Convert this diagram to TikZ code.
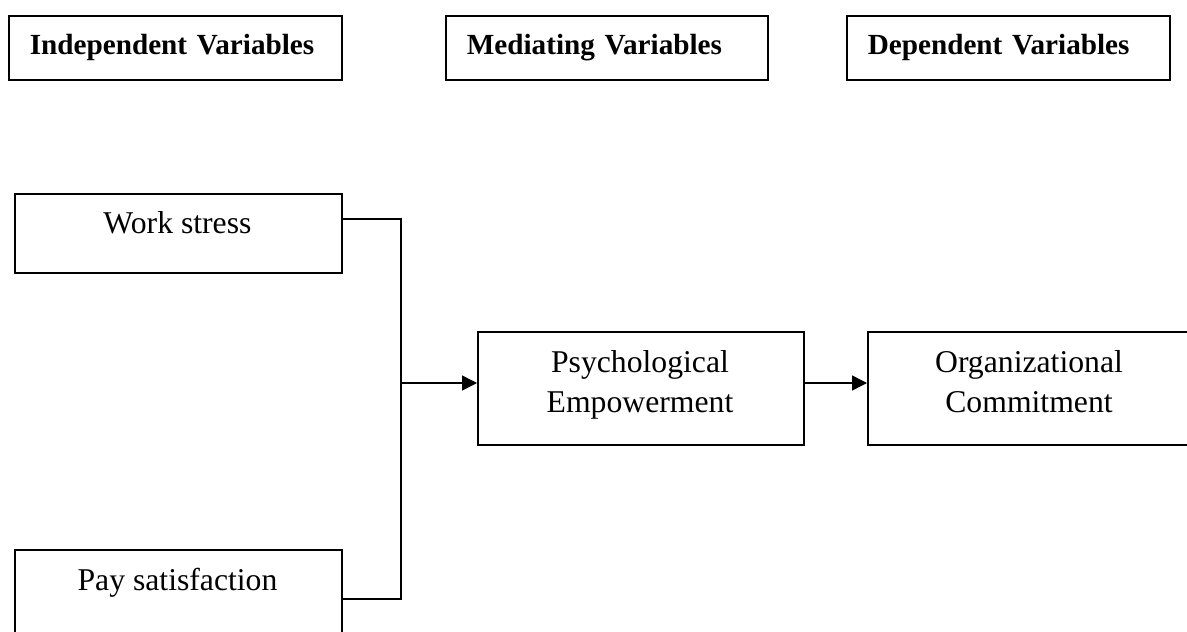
\documentclass[tikz,border=0pt]{standalone}
\usepackage{fontspec}
\setmainfont{Liberation Serif}
\usetikzlibrary{arrows.meta}
\tikzset{
  hdr/.style={draw, line width=1.6pt, anchor=north west, inner xsep=21pt, inner ysep=0pt,
    minimum height=64pt, align=left, font=\fontsize{29.2pt}{35pt}\selectfont\bfseries},
  varbox/.style={draw, line width=1.5pt, anchor=north west, inner sep=0pt},
  lbl/.style={anchor=base, inner sep=0pt, align=center, font=\fontsize{31.7pt}{40pt}\selectfont},
  conn/.style={line width=1.5pt},
  arr/.style={line width=1.5pt, -{Triangle[length=15pt,width=15pt]}}
}
\begin{document}
\begin{tikzpicture}[x=1pt,y=-1pt]
\useasboundingbox (0,0) rectangle (1187,632);
\clip (0,0) rectangle (1187,632);
% headers
\node[hdr, text width=291pt] (h1) at (8,15) {Independent Variables};
\node[hdr, text width=280pt] (h2) at (445,15) {Mediating Variables};
\node[hdr, text width=281pt] (h3) at (846,15) {Dependent Variables};
% boxes
\node[varbox, minimum width=327pt, minimum height=79pt] (ws) at (14,193) {};
\node[lbl] (wst) at (177.5,233) {Work stress};
\node[varbox, minimum width=327pt, minimum height=95pt] (pay) at (14,549) {};
\node[lbl] (payt) at (177.5,590) {Pay satisfaction};
\node[varbox, minimum width=326pt, minimum height=113pt] (pe) at (477,331) {};
\node[lbl, text width=326pt] (pet) at (640,372) {Psychological\\Empowerment};
\node[varbox, minimum width=324pt, minimum height=113pt] (oc) at (867,331) {};
\node[lbl, text width=324pt] (oct) at (1029,372) {Organizational\\Commitment};
% connectors
\coordinate (j) at (401,383);
\draw[conn] ([yshift=-26pt]ws.north east) -| (j);
\draw[conn] ([yshift=-50pt]pay.north east) -| (j);
\draw[arr] (j) -- (j -| pe.west);
\draw[arr] (pe.east |- j) -- (oc.west |- j);
\end{tikzpicture}
\end{document}
